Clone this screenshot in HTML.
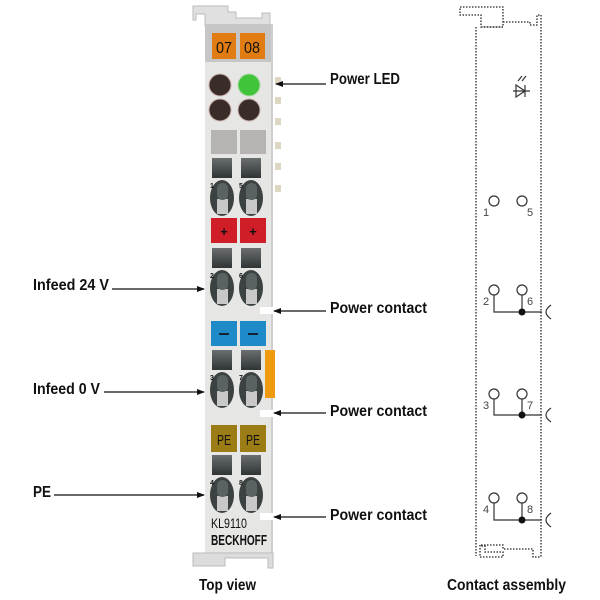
<!DOCTYPE html>
<html><head><meta charset="utf-8"><style>
html,body{margin:0;padding:0;background:#fff;}
svg{display:block;}
text{font-family:"Liberation Sans",sans-serif;font-weight:bold;fill:#111;}
</style></head><body>
<svg width="600" height="600" viewBox="0 0 600 600" xmlns="http://www.w3.org/2000/svg">
<defs>
<marker id="ar" markerWidth="8" markerHeight="6" refX="7" refY="3" orient="auto" markerUnits="userSpaceOnUse">
<path d="M0,0 L8,3 L0,6 z" fill="#111"/></marker>
<linearGradient id="dk" x1="0" y1="0" x2="0" y2="1"><stop offset="0" stop-color="#6a6e6e"/><stop offset="1" stop-color="#2f3434"/></linearGradient>
</defs>
<path d="M193,6 H228 V12 H236 V18 H262 V13 H270 V26 H205 V14 H196 V20 H193 Z" fill="#e0e0e0" stroke="#bbb"/>
<rect x="205" y="24" width="68" height="530" fill="#e6e6e4"/>
<rect x="205" y="24" width="68" height="38" fill="#c6c6c6"/>
<rect x="271" y="24" width="2" height="530" fill="#cfcfcf"/>
<path d="M193,553 H273 V568 H268 V558 H225 V566 H193 Z" fill="#dcdcdc" stroke="#bbb"/>
<rect x="212" y="33" width="24" height="26" fill="#e07c12"/>
<rect x="240" y="33" width="25" height="26" fill="#e07c12"/>
<text x="224" y="53" font-size="16" text-anchor="middle" style="font-weight:normal" textLength="16" lengthAdjust="spacingAndGlyphs">07</text>
<text x="252" y="53" font-size="16" text-anchor="middle" style="font-weight:normal" textLength="16" lengthAdjust="spacingAndGlyphs">08</text>
<circle cx="220" cy="85" r="11" fill="#3a2c28" stroke="#c8b0ac" stroke-width="1"/>
<circle cx="249" cy="85" r="11" fill="#3fc43a" stroke="#b0d8a8" stroke-width="1"/>
<circle cx="220" cy="110" r="11" fill="#3a2c28" stroke="#c8b0ac" stroke-width="1"/>
<circle cx="249" cy="110" r="11" fill="#3a2c28" stroke="#c8b0ac" stroke-width="1"/>
<rect x="211" y="130" width="26" height="24" fill="#b6b4b2"/>
<rect x="240" y="130" width="26" height="24" fill="#b6b4b2"/>
<g fill="#ddd6c0">
<rect x="275" y="77" width="6" height="7"/><rect x="275" y="97" width="6" height="7"/>
<rect x="275" y="118" width="6" height="7"/><rect x="275" y="142" width="6" height="7"/>
<rect x="275" y="163" width="6" height="7"/><rect x="275" y="185" width="6" height="7"/>
</g>
<g id="u1">
<rect x="212" y="158" width="20" height="20" fill="url(#dk)"/>
<rect x="241" y="158" width="20" height="20" fill="url(#dk)"/>
<ellipse cx="222" cy="198" rx="12" ry="18" fill="#3c4242"/>
<ellipse cx="251" cy="198" rx="12" ry="18" fill="#3c4242"/>
<rect x="217" y="199" width="11" height="15" fill="#c8c8c8"/>
<rect x="246" y="199" width="11" height="15" fill="#c8c8c8"/>
<rect x="217" y="183" width="11" height="17" rx="5" fill="#5a6262"/>
<rect x="246" y="183" width="11" height="17" rx="5" fill="#5a6262"/>
</g>
<text x="210" y="188" font-size="7">1</text><text x="239" y="188" font-size="7">5</text>
<use href="#u1" y="90"/>
<text x="210" y="278" font-size="7">2</text><text x="239" y="278" font-size="7">6</text>
<use href="#u1" y="192"/>
<text x="210" y="380" font-size="7">3</text><text x="239" y="380" font-size="7">7</text>
<use href="#u1" y="297"/>
<text x="210" y="485" font-size="7">4</text><text x="239" y="485" font-size="7">8</text>
<rect x="211" y="218" width="26" height="25" fill="#d01e28"/>
<rect x="240" y="218" width="26" height="25" fill="#d01e28"/>
<text x="224" y="236" font-size="13" text-anchor="middle">+</text>
<text x="253" y="236" font-size="13" text-anchor="middle">+</text>
<rect x="211" y="321" width="26" height="25" fill="#1e8ac8"/>
<rect x="240" y="321" width="26" height="25" fill="#1e8ac8"/>
<rect x="219" y="333" width="10" height="2" fill="#123"/>
<rect x="248" y="333" width="10" height="2" fill="#123"/>
<rect x="211" y="425" width="26" height="27" fill="#9c7c14"/>
<rect x="240" y="425" width="26" height="27" fill="#9c7c14"/>
<text x="224" y="445" font-size="15" text-anchor="middle" style="font-weight:normal" textLength="14" lengthAdjust="spacingAndGlyphs">PE</text>
<text x="253" y="445" font-size="15" text-anchor="middle" style="font-weight:normal" textLength="14" lengthAdjust="spacingAndGlyphs">PE</text>
<rect x="265" y="350" width="10" height="48" fill="#f09a10"/>
<rect x="260" y="307" width="14" height="7" fill="#fff"/>
<rect x="260" y="410" width="14" height="7" fill="#fff"/>
<rect x="260" y="513" width="14" height="7" fill="#fff"/>
<text x="211" y="528" font-size="14" style="font-weight:normal" textLength="36" lengthAdjust="spacingAndGlyphs">KL9110</text>
<text x="211" y="545" font-size="15" textLength="56" lengthAdjust="spacingAndGlyphs">BECKHOFF</text>
<g stroke="#111" stroke-width="1.2" marker-end="url(#ar)">
<line x1="326" y1="84" x2="276" y2="84"/>
<line x1="112" y1="289" x2="204" y2="289"/>
<line x1="326" y1="311" x2="274" y2="311"/>
<line x1="104" y1="392" x2="204" y2="392"/>
<line x1="326" y1="413" x2="274" y2="413"/>
<line x1="54" y1="495" x2="204" y2="495"/>
<line x1="326" y1="517" x2="274" y2="517"/>
</g>
<g font-size="16">
<text x="330" y="84" textLength="70" lengthAdjust="spacingAndGlyphs">Power LED</text>
<text x="33" y="290" textLength="76" lengthAdjust="spacingAndGlyphs">Infeed 24 V</text>
<text x="330" y="313" textLength="97" lengthAdjust="spacingAndGlyphs">Power contact</text>
<text x="33" y="394" textLength="67" lengthAdjust="spacingAndGlyphs">Infeed 0 V</text>
<text x="330" y="416" textLength="97" lengthAdjust="spacingAndGlyphs">Power contact</text>
<text x="33" y="497" textLength="18" lengthAdjust="spacingAndGlyphs">PE</text>
<text x="330" y="520" textLength="97" lengthAdjust="spacingAndGlyphs">Power contact</text>
<text x="199" y="590" textLength="57" lengthAdjust="spacingAndGlyphs">Top view</text>
<text x="447" y="590" textLength="119" lengthAdjust="spacingAndGlyphs">Contact assembly</text>
</g>
<g fill="none" stroke="#222" stroke-width="1.3" stroke-dasharray="1.5,1.5">
<path d="M476,27 V556"/>
<path d="M541,15 V557"/>
<path d="M460,7 H503 V27 H481 V15 H460 Z"/>
<path d="M481,27 H503 M503,22 H530 V25 H537 V15 H541"/>
<path d="M480,545 V557 H503 V552 H485 V546 H480"/>
<path d="M481,545 H503 V549 H533 V557 H541"/>
</g>
<g fill="none" stroke="#333" stroke-width="1.2">
<circle cx="494" cy="201" r="5"/><circle cx="522" cy="201" r="5"/>
<circle cx="494" cy="290" r="5"/><circle cx="522" cy="290" r="5"/>
<circle cx="494" cy="394" r="5"/><circle cx="522" cy="394" r="5"/>
<circle cx="494" cy="498" r="5"/><circle cx="522" cy="498" r="5"/>
<path d="M494,295 V312 H542 M522,295 V312"/>
<path d="M494,399 V415 H542 M522,399 V415"/>
<path d="M494,503 V520 H542 M522,503 V520"/>
<path d="M551,305 Q541,312 551,319"/>
<path d="M551,408 Q541,415 551,422"/>
<path d="M551,513 Q541,520 551,527"/>
<path d="M513,91 H530 M516,85 V97 L525,91 Z M525,85 V97"/>
<path d="M518,81 L522,76 M522,81 L526,76"/>
</g>
<g fill="#111">
<circle cx="522" cy="312" r="3.5"/><circle cx="522" cy="415" r="3.5"/><circle cx="522" cy="520" r="3.5"/>
</g>
<g>
<text x="483" y="216" font-size="11" style="font-weight:normal;fill:#444">1</text><text x="527" y="216" font-size="11" style="font-weight:normal;fill:#444">5</text>
<text x="483" y="305" font-size="11" style="font-weight:normal;fill:#444">2</text><text x="527" y="305" font-size="11" style="font-weight:normal;fill:#444">6</text>
<text x="483" y="409" font-size="11" style="font-weight:normal;fill:#444">3</text><text x="527" y="409" font-size="11" style="font-weight:normal;fill:#444">7</text>
<text x="483" y="513" font-size="11" style="font-weight:normal;fill:#444">4</text><text x="527" y="513" font-size="11" style="font-weight:normal;fill:#444">8</text>
</g>
</svg>
</body></html>
